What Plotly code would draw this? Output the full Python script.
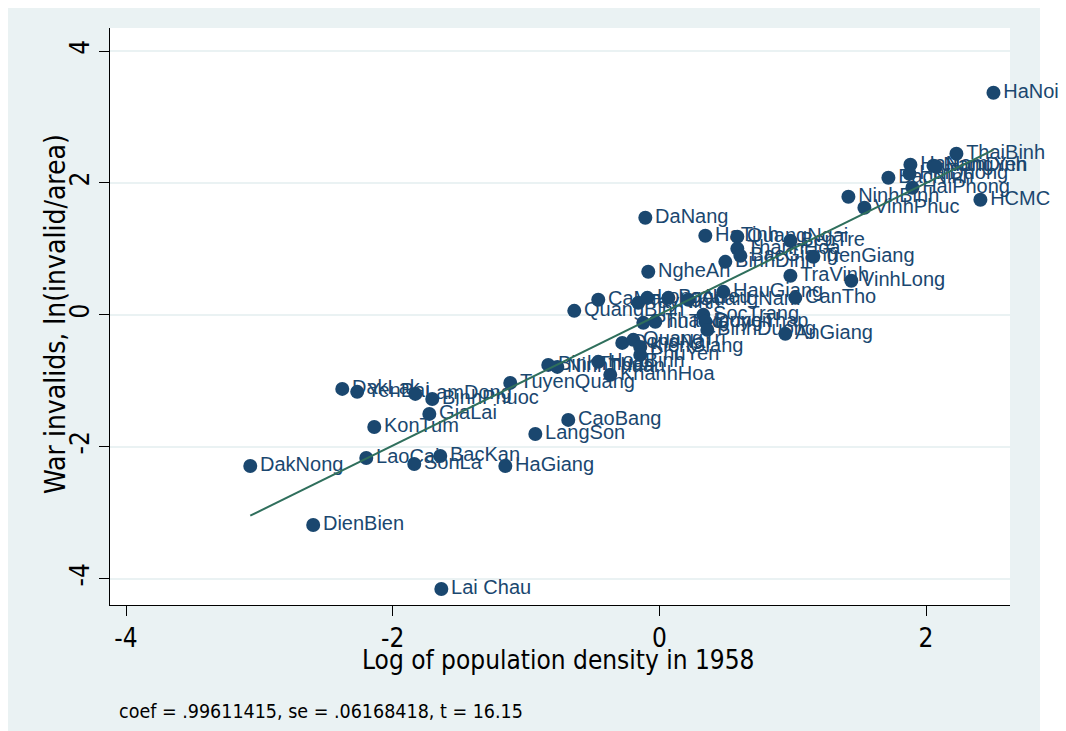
import numpy as np
import plotly.graph_objects as go

provinces = ["HaNoi", "ThaiBinh", "HaNam", "NamDinh", "HungYen", "BacNinh", "HaiDuong", "HaiPhong",
             "HCMC", "NinhBinh", "VinhPhuc", "DaNang", "HaTinh", "QuangNgai", "BenTre", "ThanhHoa",
             "BacGiang", "TienGiang", "BinhDinh", "NgheAn", "TraVinh", "VinhLong", "HauGiang", "CanTho",
             "CaMau", "TayNinh", "LongAn", "BacLieu", "QuangNam", "QuangBinh", "SocTrang", "DongThap",
             "BinhDuong", "PhuTho", "ThaiNguyen", "AnGiang", "DongNai", "QuangTri", "KienGiang", "PhuYen",
             "BinhThuan", "NinhThuan", "HoaBinh", "KhanhHoa", "TuyenQuang", "DakLak", "YenBai", "LamDong",
             "BinhPhuoc", "GiaLai", "KonTum", "CaoBang", "LangSon", "DakNong", "LaoCai", "BacKan",
             "SonLa", "HaGiang", "DienBien", "Lai Chau"]

log_density = [2.506, 2.228, 1.883, 2.056, 2.075, 1.718, 1.876, 1.898,
               2.408, 1.418, 1.538, -0.105, 0.345, 0.585, 0.983, 0.585,
               0.608, 1.155, 0.495, -0.083, 0.983, 1.440, 0.480, 1.020,
               -0.458, -0.158, -0.090, 0.068, 0.218, -0.638, 0.330, 0.345,
               0.360, -0.120, -0.030, 0.945, -0.278, -0.195, -0.143, -0.143,
               -0.833, -0.765, -0.458, -0.368, -1.118, -2.378, -2.266, -1.830,
               -1.703, -1.725, -2.138, -0.683, -0.930, -3.068, -2.198, -1.643,
               -1.838, -1.155, -2.596, -1.635]

log_invalids = [3.369, 2.443, 2.276, 2.261, 2.250, 2.079, 2.140, 1.927,
                1.745, 1.791, 1.624, 1.472, 1.199, 1.184, 1.123, 1.002,
                0.895, 0.880, 0.804, 0.653, 0.592, 0.516, 0.349, 0.258,
                0.228, 0.182, 0.258, 0.258, 0.228, 0.061, 0.000, -0.106,
                -0.228, -0.121, -0.106, -0.288, -0.425, -0.379, -0.486, -0.607,
                -0.759, -0.789, -0.713, -0.910, -1.032, -1.123, -1.168, -1.199,
                -1.275, -1.502, -1.700, -1.593, -1.806, -2.291, -2.170, -2.140,
                -2.261, -2.291, -3.187, -4.158]

x_ticks = [-4, -2, 0, 2]
x_tick_text = ["-4", "-2", "0", "2"]
y_ticks = [-4, -2, 0, 2, 4]
y_tick_text = ["-4", "-2", "0", "2", "4"]
x_title = "Log of population density in 1958"
y_title = "War invalids, ln(invalid/area)"
note_text = "coef = .99611415, se = .06168418, t = 16.15"

NAVY = "#1a476f"
LINE = "#2f6f5c"
BG = "#eaf2f3"
AXFONT = "DejaVu Sans Condensed, Liberation Sans Narrow, Liberation Sans, Arial"

xa = np.array(log_density)
ya = np.array(log_invalids)
slope, intercept = np.polyfit(xa, ya, 1)
xl = np.array([xa.min(), xa.max()])
yl = intercept + slope * xl

fig = go.Figure()
fig.add_trace(go.Scatter(
    x=log_density, y=log_invalids, mode="markers+text", text=provinces,
    textposition="middle right",
    marker=dict(color=NAVY, size=14, line=dict(width=0)),
    textfont=dict(color=NAVY, size=20, family="Liberation Sans, Arial, sans-serif"),
    hoverinfo="text", showlegend=False, cliponaxis=False))
fig.add_trace(go.Scatter(
    x=xl, y=yl, mode="lines", line=dict(color=LINE, width=2), showlegend=False, hoverinfo="skip"))

W, H = 1058, 723
L, T = 102, 20
pw, ph = 900, 577
R = W - L - pw
B = H - T - ph

def px2paper(x, y):
    return (x - L) / pw, (T + ph - y) / ph

x0, y0 = px2paper(0, 0)
x1, y1 = px2paper(1032, H)
fig.add_shape(type="rect", xref="paper", yref="paper", x0=x0, y0=y1, x1=x1, y1=y0,
              fillcolor=BG, line=dict(width=0), layer="below")
fig.add_shape(type="rect", xref="paper", yref="paper", x0=0, y0=0, x1=1, y1=1,
              fillcolor="white", line=dict(width=0), layer="below")

fig.add_annotation(text=note_text, xref="paper", yref="paper", x=px2paper(109, 0)[0],
                   y=px2paper(0, 703)[1], xanchor="left", yanchor="middle", showarrow=False,
                   font=dict(size=19.5, color="black", family=AXFONT))
fig.add_annotation(text=x_title, xref="paper", yref="paper", x=px2paper(550, 0)[0],
                   y=px2paper(0, 652)[1], xanchor="center", yanchor="middle", showarrow=False,
                   font=dict(size=26, color="black", family=AXFONT))
fig.add_annotation(text=y_title, xref="paper", yref="paper", x=px2paper(47, 0)[0],
                   y=px2paper(0, 306)[1], xanchor="center", yanchor="middle", showarrow=False,
                   textangle=-90, font=dict(size=28, color="black", family=AXFONT))

fig.update_layout(
    width=W, height=H, margin=dict(l=L, r=R, t=T, b=B),
    paper_bgcolor="white", plot_bgcolor="white",
    font=dict(family=AXFONT, color="black"),
    xaxis=dict(range=[-4.12, 2.63], tickvals=x_ticks, ticktext=x_tick_text, ticks="outside",
               ticklen=10, tickcolor="black",
               showline=True, linecolor="black", linewidth=1, showgrid=False, zeroline=False,
               tickfont=dict(size=26)),
    yaxis=dict(range=[-4.40, 4.35], tickvals=y_ticks, ticktext=y_tick_text, ticks="outside",
               ticklen=10, tickcolor="black",
               showline=True, linecolor="black", linewidth=1, showgrid=True, gridcolor=BG, gridwidth=2,
               zeroline=False, tickangle=-90, tickfont=dict(size=26)),
)

fig.write_html("out.html")
